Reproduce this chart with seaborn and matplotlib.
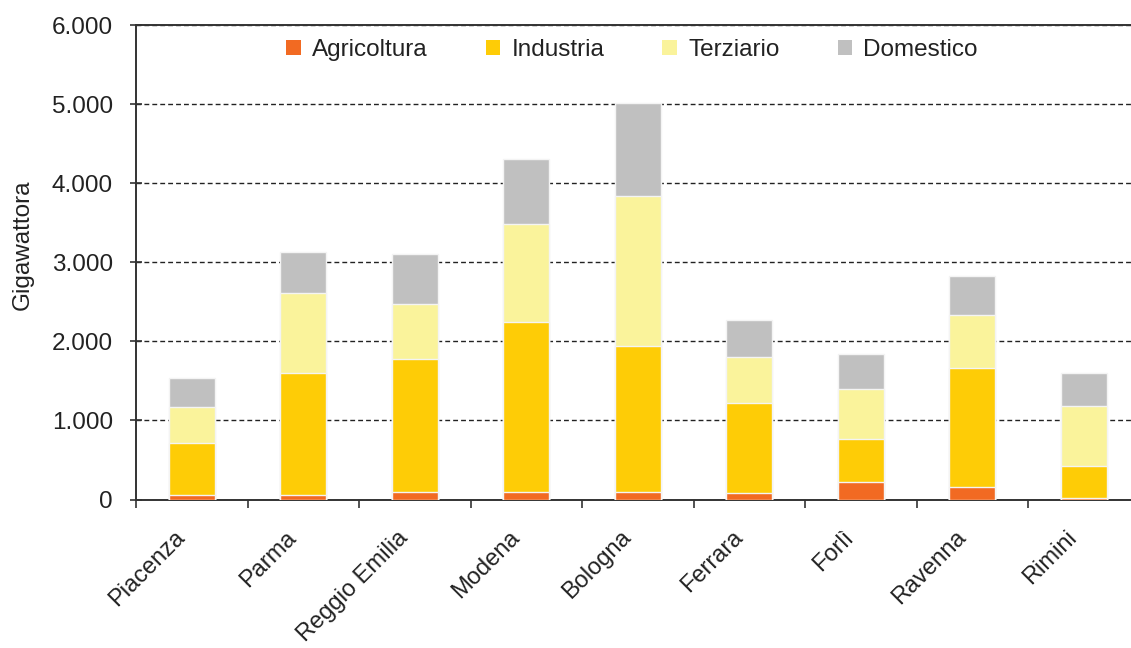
import matplotlib
matplotlib.use("Agg")
import matplotlib.pyplot as plt
import matplotlib.transforms as mtransforms
from matplotlib.patches import Patch
from matplotlib.ticker import FuncFormatter, FixedLocator
import seaborn as sns
import pandas as pd
import numpy as np

provinces = ["Piacenza", "Parma", "Reggio Emilia", "Modena", "Bologna",
             "Ferrara", "Forlì", "Ravenna", "Rimini"]
agricoltura = [60, 60, 100, 100, 100, 80, 220, 160, 25]
industria = [660, 1540, 1680, 2140, 1840, 1140, 540, 1500, 395]
terziario = [455, 1005, 695, 1240, 1900, 580, 640, 675, 760]
domestico = [365, 520, 625, 825, 1180, 465, 445, 485, 420]

series_names = ["Agricoltura", "Industria", "Terziario", "Domestico"]
colors = ["#F26A22", "#FECC06", "#FAF39B", "#C0C0C0"]

df = pd.DataFrame({"Provincia": provinces, "Agricoltura": agricoltura,
                   "Industria": industria, "Terziario": terziario,
                   "Domestico": domestico})
cum = df[series_names].cumsum(axis=1)

sns.set_style("white")
plt.rcParams["font.family"] = ["Liberation Sans", "DejaVu Sans"]

W, H = 1131, 648
fig = plt.figure(figsize=(W / 100, H / 100), dpi=100)
left, right, top, bottom = 136, 1139.5, 25, 499.5
ax = fig.add_axes([left / W, 1 - bottom / H, (right - left) / W, (bottom - top) / H])

text_color = "#222222"

for name, col in reversed(list(zip(series_names, colors))):
    sns.barplot(x=df["Provincia"], y=cum[name], color=col, width=0.41,
                edgecolor="#F4F4F4", linewidth=1.0, ax=ax, zorder=3,
                saturation=1)

ax.set_xlim(-0.5, len(provinces) - 0.5)
ax.set_ylim(0, 6000)
ax.yaxis.set_major_locator(FixedLocator(np.arange(0, 6001, 1000)))
ax.yaxis.set_major_formatter(FuncFormatter(lambda v, p: f"{int(v):,}".replace(",", ".")))

ax.yaxis.grid(True, linestyle=(0, (3.5, 2.2)), color="#222222", linewidth=1.0, zorder=0)
ax.set_axisbelow(True)

for s in ["left", "bottom", "top", "right"]:
    ax.spines[s].set_visible(True)
    ax.spines[s].set_color("#333333")
    ax.spines[s].set_linewidth(1.4)

ax.tick_params(axis="y", direction="inout", length=9, width=1.2, color="#333333",
               labelsize=17.5, labelcolor=text_color, pad=12, left=True)
ax.set_xticks(range(len(provinces)))
ax.set_xticklabels(provinces, rotation=45, ha="right", va="center",
                   rotation_mode="anchor", fontsize=17, color=text_color)
ax.tick_params(axis="x", which="major", length=0, pad=25)
ax.set_xticks(np.arange(-0.5, len(provinces) - 0.5, 1.0), minor=True)
ax.tick_params(axis="x", which="minor", direction="out", length=6, width=1.2,
               color="#333333", bottom=True)
offset = mtransforms.ScaledTranslation(-10 / 100, 0, fig.dpi_scale_trans)
for lbl in ax.get_xticklabels():
    lbl.set_transform(lbl.get_transform() + offset)

ax.set_xlabel("")
ax.set_ylabel("Gigawattora", fontsize=17.5, color=text_color)
ax.yaxis.set_label_coords(-0.1016, 0.536)

handles = [Patch(facecolor=c, edgecolor="none", label=n) for n, c in zip(series_names, colors)]
fig.legend(handles=handles, loc="center", bbox_to_anchor=(632 / W, 1 - 50 / H),
           ncol=4, frameon=False, fontsize=17.5, handlelength=0.6, handleheight=0.6,
           handletextpad=0.45, columnspacing=2.4, labelcolor=text_color)

fig.savefig("out.png", dpi=100)
